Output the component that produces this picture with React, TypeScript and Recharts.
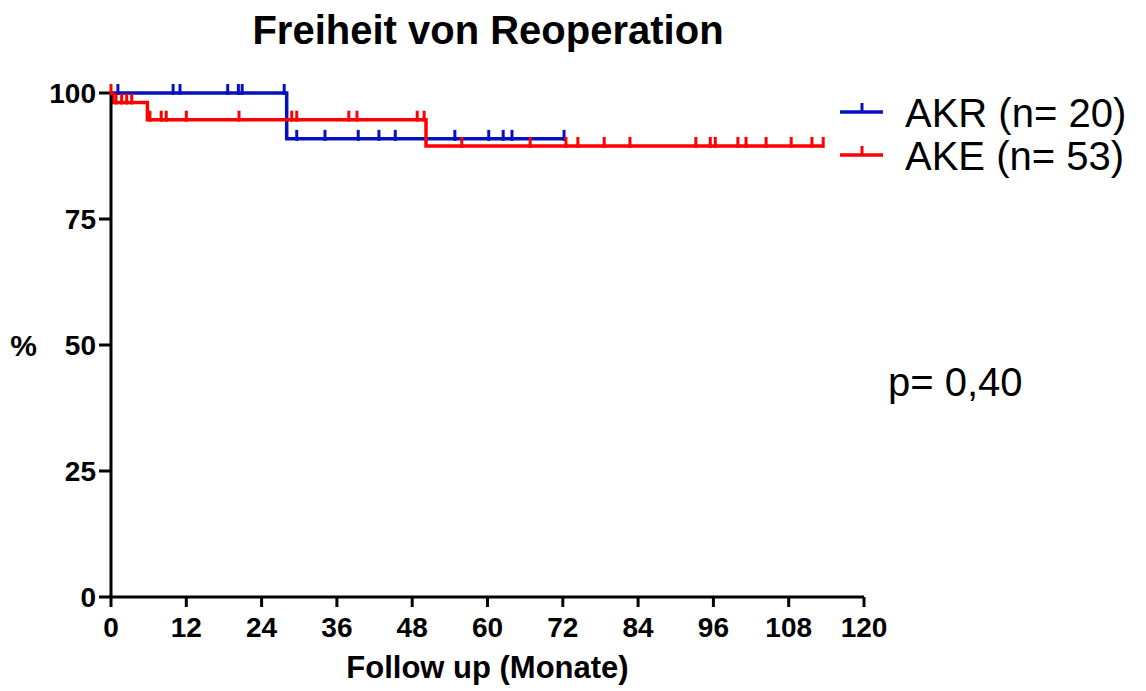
import React from 'react';
import {
  ComposedChart, Line, Scatter, XAxis, YAxis, Legend, Label,
} from 'recharts';

// Kaplan-Meier steps (time in months, survival in %)
const akrTimes = [0, 28, 72.2];
const akrSurv = [100, 90.9, 90.9];
const akeTimes = [0, 0.3, 5.8, 50.2, 113.5];
const akeSurv = [100, 98.1, 94.7, 89.5, 89.5];

// censored patients (months)
const akrCensored = [1.1, 9.9, 11.0, 18.6, 20.3, 20.9, 27.6, 29.6, 34.1, 39.4, 42.7, 45.3, 54.8, 60.2, 62.5, 63.9, 72.2];
const akeCensored = [
  0, 0.8, 1.7, 2.5, 3.3, 6.2, 8.0, 8.8, 12.0, 20.4, 28.8, 29.6, 37.9, 39.2, 48.8, 49.9,
  55.9, 66.8, 72.5, 74.4, 78.6, 82.7, 93.2, 95.5, 96.3, 99.9, 101.2, 104.4, 108.4, 111.7, 113.5,
];

const xTicks = [0, 12, 24, 36, 48, 60, 72, 84, 96, 108, 120];
const yTicks = [0, 25, 50, 75, 100];

const BLUE = '#0510c0';
const RED = '#ff0000';
const FONT = '"Liberation Sans", Arial, sans-serif';

const steps = (times: number[], surv: number[]) => times.map((t, i) => ({ t, s: surv[i] }));

// survival level at which each censor mark sits
const marks = (times: number[], surv: number[], cens: number[]) =>
  cens.map((t) => {
    let s = surv[0];
    times.forEach((tt, i) => { if (tt <= t) s = surv[i]; });
    return { t, s };
  });

const akrLine = steps(akrTimes, akrSurv);
const akeLine = steps(akeTimes, akeSurv);
const akrMarks = marks(akrTimes, akrSurv, akrCensored);
const akeMarks = marks(akeTimes, akeSurv, akeCensored);

const tickMark = (color: string) => (props: any) => (
  <line x1={props.cx} x2={props.cx} y1={props.cy - 9} y2={props.cy + 2} stroke={color} strokeWidth={3} />
);

const legendRows = [
  { name: 'AKR (n= 20)', color: BLUE },
  { name: 'AKE (n= 53)', color: RED },
];

const LegendBox = () => (
  <svg width={310} height={100}>
    {legendRows.map((r, i) => (
      <g key={r.name} transform={`translate(0, ${i * 43})`}>
        <line x1={10} x2={53} y1={27} y2={27} stroke={r.color} strokeWidth={3.5} />
        <line x1={32} x2={32} y1={18} y2={28} stroke={r.color} strokeWidth={3} />
        <text x={75} y={42} fontFamily={FONT} fontSize={40} fill="#000">{r.name}</text>
      </g>
    ))}
  </svg>
);

const tickStyle = { fontFamily: FONT, fontSize: 28, fontWeight: 'bold', fill: '#000' };

export default function App() {
  return (
    <div style={{ position: 'absolute', left: 0, top: 0, width: 1146, height: 691, background: '#fff' }}>
      <div style={{
        position: 'absolute', left: 0, width: 976, top: 6, textAlign: 'center',
        fontFamily: FONT, fontSize: 40, fontWeight: 'bold', lineHeight: '48px',
      }}>
        Freiheit von Reoperation
      </div>
      <div style={{
        position: 'absolute', left: 888, top: 358, fontFamily: FONT, fontSize: 40, lineHeight: '48px',
      }}>
        p= 0,40
      </div>
      <ComposedChart
        width={1146}
        height={691}
        margin={{ top: 93, right: 282, bottom: 54, left: 51 }}
      >
        <XAxis
          dataKey="t"
          type="number"
          domain={[0, 120]}
          ticks={xTicks}
          interval={0}
          height={40}
          stroke="#000"
          strokeWidth={3}
          tickSize={10}
          tickMargin={10}
          tick={tickStyle}
          tickLine={{ stroke: '#000', strokeWidth: 3 }}
        >
          <Label
            value="Follow up (Monate)"
            position="bottom"
            offset={19}
            style={{ fontFamily: FONT, fontSize: 31, fontWeight: 'bold', fill: '#000' }}
          />
        </XAxis>
        <YAxis
          dataKey="s"
          type="number"
          domain={[0, 100]}
          ticks={yTicks}
          interval={0}
          width={60}
          stroke="#000"
          strokeWidth={3}
          tickSize={12}
          tickMargin={3}
          tick={tickStyle}
          tickLine={{ stroke: '#000', strokeWidth: 3 }}
        >
          <Label
            value="%"
            position="left"
            offset={14}
            style={{ fontFamily: FONT, fontSize: 30, fontWeight: 'bold', fill: '#000' }}
          />
        </YAxis>
        <Line data={akrLine} dataKey="s" type="stepAfter" stroke={BLUE} strokeWidth={3.5}
          dot={false} activeDot={false} isAnimationActive={false} />
        <Scatter data={akrMarks} dataKey="s" shape={tickMark(BLUE)} isAnimationActive={false} />
        <Line data={akeLine} dataKey="s" type="stepAfter" stroke={RED} strokeWidth={3.5}
          dot={false} activeDot={false} isAnimationActive={false} />
        <Scatter data={akeMarks} dataKey="s" shape={tickMark(RED)} isAnimationActive={false} />
        <Legend
          layout="horizontal"
          align="center"
          verticalAlign="middle"
          content={() => <LegendBox />}
          wrapperStyle={{ left: 830, top: 85, width: 310, height: 100 }}
        />
      </ComposedChart>
    </div>
  );
}
